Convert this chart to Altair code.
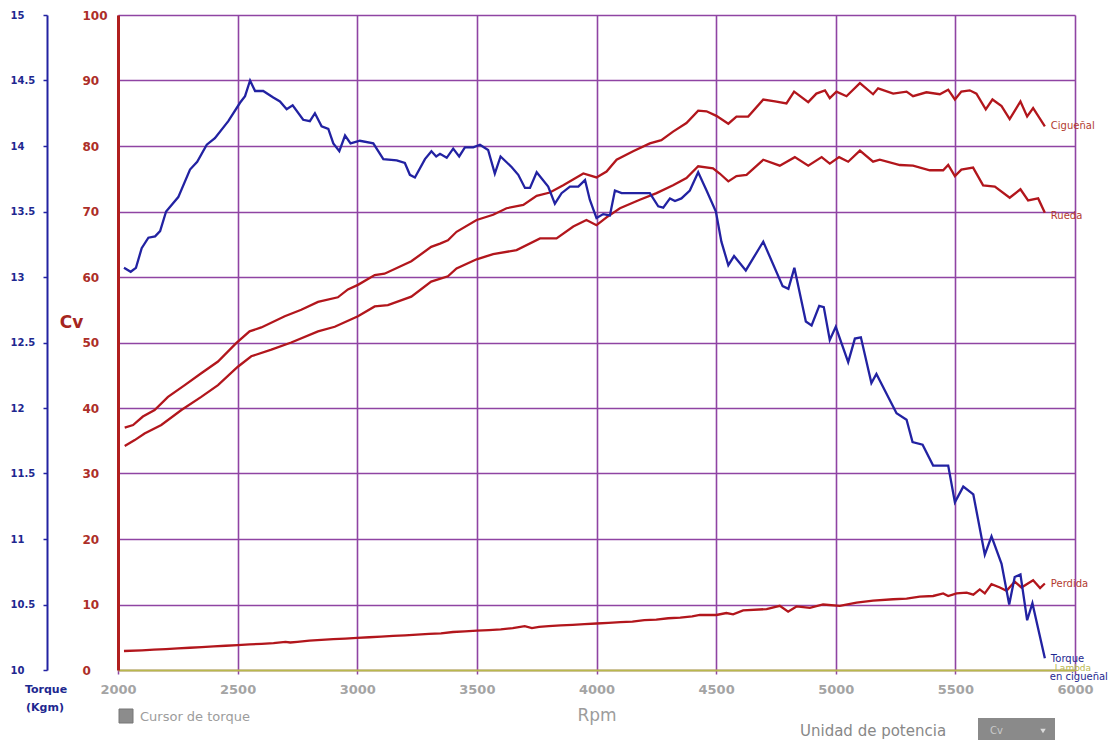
import altair as alt
import pandas as pd

FONT = "DejaVu Sans"
RED = "#b2161c"
RED_TXT = "#b23b30"
RED_AXIS = "#b01f1e"
BLUE = "#2222a2"
BLUE_TXT = "#1e2890"
PURPLE = "#8f44a3"
OLIVE = "#b9b84c"
GRAY = "#9c9c9c"

# ---------------- data ----------------
cig_rpm = [2028, 2063, 2104, 2153, 2209, 2279, 2348, 2418, 2494, 2550, 2599, 2697, 2766, 2836,
           2919, 2961, 3003, 3073, 3114, 3226, 3309, 3346, 3379, 3415, 3499, 3568, 3624, 3694,
           3750, 3805, 3861, 3945, 4000, 4042, 4084, 4153, 4223, 4271, 4320, 4376, 4425, 4460,
           4501, 4551, 4585, 4634, 4697, 4746, 4794, 4826, 4885, 4919, 4955, 4975, 5003, 5045,
           5101, 5156, 5177, 5240, 5296, 5323, 5379, 5435, 5470, 5498, 5525, 5560, 5588, 5627,
           5655, 5693, 5727, 5772, 5800, 5825, 5874]
cig_cv = [37.0, 37.4, 38.7, 39.7, 41.7, 43.5, 45.3, 47.1, 49.9, 51.7, 52.3, 54.0, 55.0, 56.2,
          56.9, 58.1, 58.8, 60.3, 60.5, 62.4, 64.6, 65.1, 65.6, 66.9, 68.7, 69.5, 70.5, 71.0,
          72.4, 72.9, 74.0, 75.8, 75.2, 76.1, 77.9, 79.2, 80.4, 80.9, 82.2, 83.5, 85.4, 85.3,
          84.6, 83.4, 84.5, 84.5, 87.1, 86.8, 86.5, 88.3, 86.7, 88.0, 88.5, 87.3, 88.3, 87.6,
          89.6, 87.9, 88.8, 88.0, 88.3, 87.6, 88.2, 87.9, 88.6, 87.1, 88.3, 88.5, 88.0, 85.6,
          87.1, 86.1, 84.1, 86.8, 84.5, 85.8, 83.0]

rue_rpm = [2028, 2070, 2111, 2181, 2265, 2348, 2418, 2501, 2557, 2641, 2724, 2836, 2906, 3003,
           3073, 3128, 3226, 3309, 3379, 3415, 3499, 3568, 3666, 3764, 3833, 3903, 3958, 4000,
           4042, 4098, 4181, 4251, 4320, 4376, 4425, 4487, 4515, 4551, 4585, 4627, 4697, 4766,
           4829, 4885, 4941, 4975, 5014, 5052, 5101, 5156, 5184, 5268, 5323, 5393, 5449, 5470,
           5498, 5525, 5574, 5616, 5665, 5727, 5772, 5804, 5846, 5874]
rue_cv = [34.2, 35.1, 36.1, 37.4, 39.7, 41.7, 43.5, 46.3, 47.9, 48.9, 50.0, 51.7, 52.4, 54.0,
          55.5, 55.7, 57.0, 59.3, 60.1, 61.3, 62.7, 63.5, 64.1, 65.9, 65.9, 67.7, 68.7, 67.9,
          69.1, 70.5, 71.8, 72.8, 74.0, 75.1, 76.9, 76.6, 75.8, 74.6, 75.4, 75.6, 77.9, 77.0,
          78.3, 77.0, 78.3, 77.3, 78.3, 77.6, 79.3, 77.6, 77.9, 77.1, 77.0, 76.3, 76.3, 77.1,
          75.4, 76.4, 76.7, 74.0, 73.8, 72.1, 73.4, 71.7, 72.0, 69.8]

per_rpm = [2025, 2100, 2150, 2200, 2250, 2300, 2350, 2400, 2450, 2500, 2550, 2600, 2650, 2700,
           2720, 2750, 2800, 2850, 2900, 2950, 3000, 3050, 3100, 3150, 3200, 3250, 3300, 3350,
           3400, 3450, 3500, 3550, 3600, 3650, 3700, 3730, 3760, 3800, 3850, 3900, 3950, 4000,
           4050, 4100, 4150, 4200, 4250, 4300, 4350, 4400, 4432, 4501, 4543, 4571, 4613, 4711,
           4766, 4801, 4836, 4892, 4947, 5017, 5087, 5156, 5240, 5296, 5351, 5407, 5449, 5470,
           5505, 5547, 5575, 5602, 5623, 5651, 5686, 5714, 5748, 5776, 5825, 5854, 5874]
per_cv = [2.9, 3.0, 3.1, 3.2, 3.3, 3.4, 3.5, 3.6, 3.7, 3.8, 3.9, 4.0, 4.1, 4.3,
          4.2, 4.3, 4.5, 4.6, 4.7, 4.8, 4.9, 5.0, 5.1, 5.2, 5.3, 5.4, 5.5, 5.6,
          5.8, 5.9, 6.0, 6.1, 6.2, 6.4, 6.7, 6.4, 6.6, 6.7, 6.8, 6.9, 7.0, 7.1,
          7.2, 7.3, 7.4, 7.6, 7.7, 7.9, 8.0, 8.2, 8.4, 8.4, 8.7, 8.5, 9.1, 9.3,
          9.8, 8.9, 9.7, 9.5, 10.0, 9.8, 10.3, 10.6, 10.8, 10.9, 11.2, 11.3, 11.7, 11.3,
          11.7, 11.8, 11.5, 12.3, 11.7, 13.1, 12.6, 12.1, 13.5, 12.6, 13.7, 12.5, 13.2]

tq_rpm = [2025, 2053, 2075, 2099, 2127, 2155, 2176, 2201, 2252, 2301, 2331, 2371, 2405, 2461,
          2510, 2531, 2552, 2573, 2607, 2649, 2677, 2705, 2730, 2774, 2802, 2823, 2851, 2879,
          2900, 2925, 2949, 2972, 3011, 3067, 3109, 3165, 3199, 3220, 3241, 3283, 3310, 3330,
          3346, 3374, 3401, 3426, 3450, 3485, 3513, 3547, 3575, 3599, 3645, 3673, 3701, 3722,
          3750, 3798, 3826, 3854, 3889, 3924, 3952, 3972, 4000, 4028, 4056, 4077, 4105, 4181,
          4223, 4258, 4279, 4307, 4328, 4355, 4390, 4425, 4460, 4499, 4522, 4551, 4575, 4624,
          4697, 4778, 4802, 4827, 4875, 4899, 4931, 4950, 4975, 5000, 5052, 5080, 5105, 5149,
          5170, 5254, 5296, 5321, 5363, 5407, 5470, 5498, 5533, 5575, 5623, 5651, 5693, 5725,
          5748, 5772, 5800, 5822, 5874]
tq_kgm = [13.07, 13.04, 13.07, 13.22, 13.30, 13.31, 13.35, 13.50, 13.61, 13.82, 13.88, 14.01, 14.06, 14.19,
          14.33, 14.38, 14.50, 14.42, 14.42, 14.37, 14.34, 14.28, 14.31, 14.20, 14.19, 14.25, 14.15, 14.13,
          14.02, 13.96, 14.08, 14.02, 14.04, 14.02, 13.90, 13.89, 13.87, 13.78, 13.76, 13.90, 13.96, 13.92,
          13.94, 13.91, 13.98, 13.92, 13.99, 13.99, 14.01, 13.97, 13.79, 13.92, 13.84, 13.78, 13.68, 13.68,
          13.80, 13.69, 13.56, 13.64, 13.69, 13.69, 13.74, 13.59, 13.45, 13.48, 13.47, 13.66, 13.64, 13.64,
          13.64, 13.54, 13.53, 13.60, 13.58, 13.60, 13.66, 13.80, 13.66, 13.50, 13.27, 13.09, 13.16, 13.05,
          13.27, 12.93, 12.91, 13.07, 12.66, 12.63, 12.78, 12.77, 12.52, 12.62, 12.35, 12.53, 12.54, 12.19,
          12.26, 11.96, 11.91, 11.74, 11.72, 11.56, 11.56, 11.28, 11.40, 11.34, 10.88, 11.02, 10.81, 10.50,
          10.71, 10.73, 10.38, 10.51, 10.09]

cv_names = ["Cigueñal", "Rueda", "Perdida"]
rpm_ticks = [2000, 2500, 3000, 3500, 4000, 4500, 5000, 5500, 6000]
cv_ticks = [0, 10, 20, 30, 40, 50, 60, 70, 80, 90, 100]
tq_ticks = [10, 10.5, 11, 11.5, 12, 12.5, 13, 13.5, 14, 14.5, 15]

# ---------------- tables ----------------
rows = []
for name, rs, vs in zip(cv_names, [cig_rpm, rue_rpm, per_rpm], [cig_cv, rue_cv, per_cv]):
    for r, v in zip(rs, vs):
        rows.append({"serie": name, "rpm": r, "cv": v})
cv_df = pd.DataFrame(rows)
tq_df = pd.DataFrame({"rpm": tq_rpm, "kgm": tq_kgm})
end_cv = pd.DataFrame({"serie": cv_names,
                       "rpm": [cig_rpm[-1], rue_rpm[-1], per_rpm[-1]],
                       "cv": [cig_cv[-1], rue_cv[-1], per_cv[-1]]})
end_tq = pd.DataFrame({"rpm": [tq_rpm[-1]], "kgm": [tq_kgm[-1]]})
lambda_end = pd.DataFrame({"rpm": [tq_rpm[-1]], "cv": [0]})
dummy = pd.DataFrame({"d": [0]})

# ---------------- scales / axes ----------------
x_axis = alt.Axis(values=rpm_ticks, format="d", grid=True, gridColor=PURPLE, gridWidth=1.6,
                  domainColor=OLIVE, domainWidth=2, tickColor=PURPLE, tickSize=4, tickWidth=1.5,
                  labelColor="#a4a4a4", labelFont=FONT, labelFontSize=13, labelFontWeight="bold",
                  labelPadding=9, labelFlush=False, labelOverlap=False,
                  title="Rpm", titleColor=GRAY, titleFont=FONT, titleFontSize=17,
                  titleFontWeight="normal", titlePadding=11)
x_enc = alt.X("rpm:Q", scale=alt.Scale(domain=[2000, 6000], nice=False, zero=False), axis=x_axis)

cv_scale = alt.Scale(domain=[0, 100], nice=False, zero=False)
tq_scale = alt.Scale(domain=[10, 15], nice=False, zero=False)

cv_axis = alt.Axis(orient="left", values=cv_ticks, grid=True, gridColor=PURPLE, gridWidth=1.6,
                   domainColor=RED_AXIS, domainWidth=3, ticks=False, tickSize=0,
                   labelAlign="left", labelBaseline="middle", labelPadding=36,
                   labelColor="#ad2e28", labelFont=FONT, labelFontSize=12, labelFontWeight="bold",
                   labelOverlap=False, labelFlush=False,
                   title="Cv", titleAngle=0, titleX=-47, titleY=307, titleAlign="center",
                   titleBaseline="middle", titleColor="#a52520", titleFont=FONT,
                   titleFontSize=17, titleFontWeight="bold")

tq_axis = alt.Axis(orient="left", offset=71, values=tq_ticks, labelExpr="'' + datum.value",
                   grid=False, domainColor=BLUE, domainWidth=2, tickColor=BLUE, tickSize=4,
                   tickWidth=1.5, labelAlign="left", labelBaseline="middle", labelPadding=33,
                   labelColor=BLUE_TXT, labelFont=FONT, labelFontSize=10, labelFontWeight="bold",
                   labelOverlap=False, labelFlush=False, title="")

# ---------------- marks ----------------
cv_lines = alt.Chart(cv_df).mark_line(color=RED, strokeWidth=2.3).encode(
    x=x_enc, y=alt.Y("cv:Q", scale=cv_scale, axis=cv_axis), detail="serie:N")

tq_line = alt.Chart(tq_df).mark_line(color=BLUE, strokeWidth=2.3).encode(
    x=x_enc, y=alt.Y("kgm:Q", scale=tq_scale, axis=tq_axis))

label_layers = []
for name, dy in zip(cv_names, [0, 3, 0]):
    label_layers.append(
        alt.Chart(end_cv[end_cv["serie"] == name]).mark_text(
            align="left", baseline="middle", dx=6, dy=dy, font=FONT, fontSize=10, color=RED_TXT
        ).encode(x=x_enc, y=alt.Y("cv:Q", scale=cv_scale, axis=None), text="serie:N"))

tq_label = alt.Chart(end_tq).mark_text(
    align="left", baseline="middle", dx=6, dy=1, font=FONT, fontSize=10, color=BLUE_TXT, text="Torque"
).encode(x=x_enc, y=alt.Y("kgm:Q", scale=tq_scale, axis=None))
tq_label2 = alt.Chart(end_tq).mark_text(
    align="left", baseline="middle", dx=5, dy=19, font=FONT, fontSize=10, color=BLUE_TXT, text="en cigueñal"
).encode(x=x_enc, y=alt.Y("kgm:Q", scale=tq_scale, axis=None))
lambda_label = alt.Chart(lambda_end).mark_text(
    align="left", baseline="middle", dx=10, dy=-2, font=FONT, fontSize=9, color=OLIVE, text="Lambda"
).encode(x=x_enc, y=alt.Y("cv:Q", scale=cv_scale, axis=None))


def deco_text(txt, x, y, **kw):
    return alt.Chart(dummy).mark_text(text=txt, font=FONT, baseline="middle", **kw).encode(
        x=alt.value(x), y=alt.value(y))


tq_title1 = deco_text("Torque", -72, 675, align="center", fontSize=11, fontWeight="bold", color=BLUE_TXT)
tq_title2 = deco_text("(Kgm)", -73, 693, align="center", fontSize=11, fontWeight="bold", color=BLUE_TXT)

cursor_box = alt.Chart(dummy).mark_rect(color="#8c8c8c", stroke="#777777", strokeWidth=1).encode(
    x=alt.value(1), x2=alt.value(15), y=alt.value(694), y2=alt.value(708))
cursor_txt = deco_text("Cursor de torque", 22, 702, align="left", fontSize=13, color=GRAY)

unidad_txt = deco_text("Unidad de potencia", 682, 716, align="left", fontSize=15, color="#888888")
drop_box = alt.Chart(dummy).mark_rect(color="#8a8a8a").encode(
    x=alt.value(860), x2=alt.value(937), y=alt.value(703), y2=alt.value(740))
drop_txt = deco_text("Cv", 872, 716, align="left", fontSize=10, color="#c9c9c9")
drop_arrow = alt.Chart(dummy).mark_point(shape="triangle-down", filled=True, color="white", size=30).encode(
    x=alt.value(925), y=alt.value(716))

chart = alt.layer(
    cv_lines, tq_line, *label_layers, tq_label, tq_label2, lambda_label,
    tq_title1, tq_title2, cursor_box, cursor_txt, unidad_txt, drop_box, drop_txt, drop_arrow
).resolve_scale(y="independent").properties(
    width=957, height=655,
    autosize=alt.AutoSizeParams(type="none"),
    padding={"left": 110, "top": 7, "right": 36, "bottom": 70},
    background="white",
).configure(font=FONT).configure_view(stroke=None)

chart.save("out.html", embed_options={"renderer": "svg", "actions": False})
